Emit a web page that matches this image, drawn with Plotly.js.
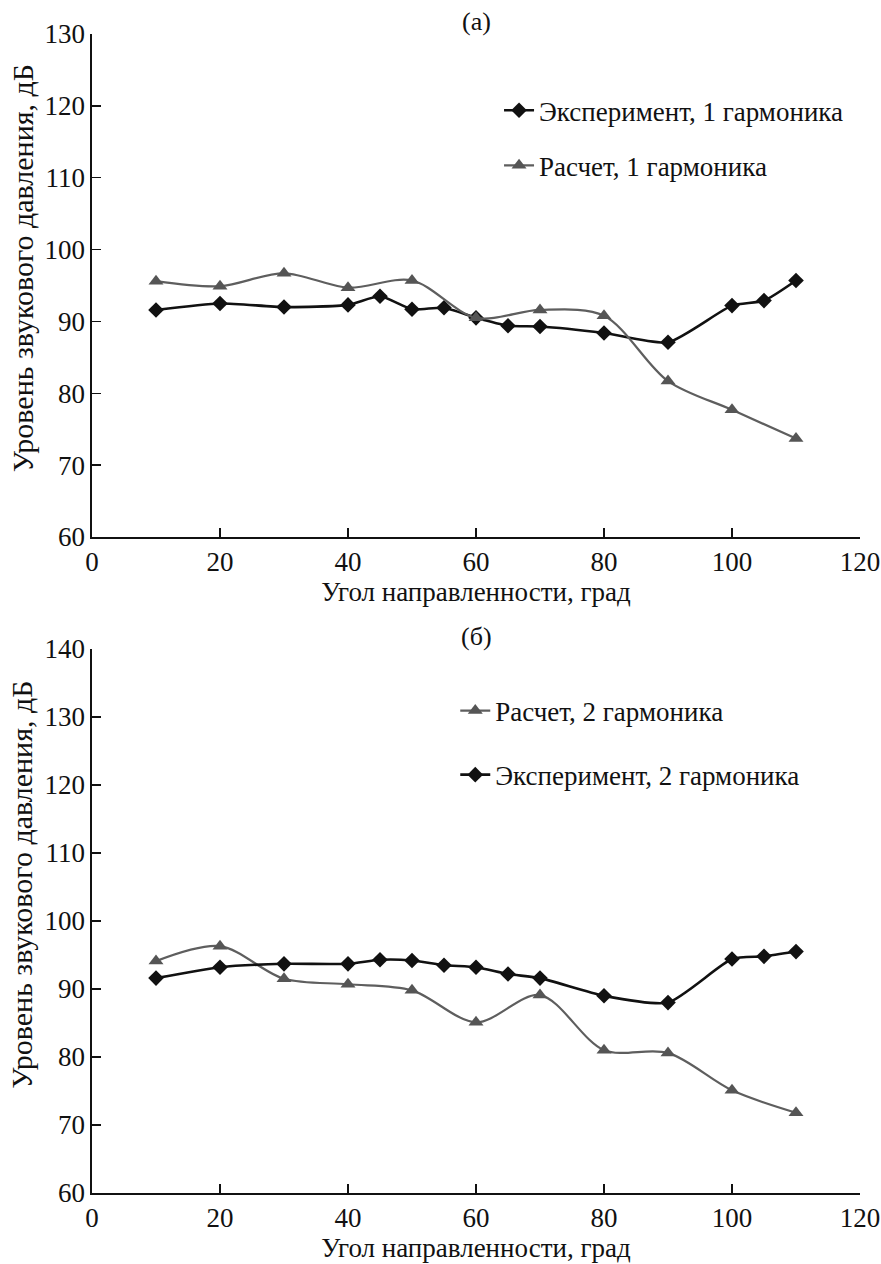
<!DOCTYPE html>
<html>
<head>
<meta charset="utf-8">
<script src="https://cdn.plot.ly/plotly-3.0.1.min.js"></script>
<style>html,body{margin:0;padding:0;background:#fff;}#chart{width:881px;height:1264px;}</style>
</head>
<body>
<div id="chart"></div>
<script>
// (а) 1st harmonic
const expAngles1 = [10, 20, 30, 40, 45, 50, 55, 60, 65, 70, 80, 90, 100, 105, 110];
const expLevels1 = [91.6, 92.5, 92.0, 92.3, 93.5, 91.7, 91.9, 90.5, 89.4, 89.3, 88.4, 87.1, 92.2, 92.9, 95.7];
const calcAngles1 = [10, 20, 30, 40, 50, 60, 70, 80, 90, 100, 110];
const calcLevels1 = [95.6, 94.9, 96.7, 94.7, 95.7, 90.5, 91.6, 90.8, 81.7, 77.7, 73.7];
// (б) 2nd harmonic
const expAngles2 = [10, 20, 30, 40, 45, 50, 55, 60, 65, 70, 80, 90, 100, 105, 110];
const expLevels2 = [91.6, 93.2, 93.7, 93.7, 94.3, 94.2, 93.5, 93.2, 92.2, 91.6, 89.0, 88.0, 94.4, 94.8, 95.5];
const calcAngles2 = [10, 20, 30, 40, 50, 60, 70, 80, 90, 100, 110];
const calcLevels2 = [94.1, 96.3, 91.5, 90.7, 89.8, 85.1, 89.1, 81.0, 80.6, 75.1, 71.8];

const names = {
  exp1: 'Эксперимент, 1 гармоника',
  calc1: 'Расчет, 1 гармоника',
  calc2: 'Расчет, 2 гармоника',
  exp2: 'Эксперимент, 2 гармоника'
};
const xTitle = 'Угол направленности, град';
const yTitle = 'Уровень звукового давления, дБ';
const xTicks = [0, 20, 40, 60, 80, 100, 120];

const FONT = 'Liberation Serif, Times New Roman, serif';
const FS = 27;
const BLACK = '#111111';
const GRAY = '#5e5e5e';

const expStyle = {mode: 'lines+markers', line: {color: BLACK, width: 2.6, shape: 'spline', smoothing: 0.6},
  marker: {symbol: 'diamond', size: 12, color: BLACK}};
const calcStyle = {mode: 'lines+markers', line: {color: GRAY, width: 2.2, shape: 'spline', smoothing: 0.9},
  marker: {symbol: 'triangle-up', size: 13, color: '#555555'}};

const traces = [
  Object.assign({x: expAngles1, y: expLevels1, name: names.exp1, xaxis: 'x', yaxis: 'y', legend: 'legend', legendgroup: 'a1'}, JSON.parse(JSON.stringify(expStyle))),
  Object.assign({x: calcAngles1, y: calcLevels1, name: names.calc1, xaxis: 'x', yaxis: 'y', legend: 'legend', legendgroup: 'a2'}, JSON.parse(JSON.stringify(calcStyle))),
  Object.assign({x: calcAngles2, y: calcLevels2, name: names.calc2, xaxis: 'x2', yaxis: 'y2', legend: 'legend2', legendgroup: 'b1'}, JSON.parse(JSON.stringify(calcStyle))),
  Object.assign({x: expAngles2, y: expLevels2, name: names.exp2, xaxis: 'x2', yaxis: 'y2', legend: 'legend2', legendgroup: 'b2'}, JSON.parse(JSON.stringify(expStyle)))
];

const axisCommon = {
  showline: true, linecolor: BLACK, linewidth: 1.6, showgrid: false, zeroline: false,
  ticks: 'inside', ticklen: 9, tickwidth: 1.4, tickcolor: BLACK,
  tickfont: {family: FONT, size: FS, color: BLACK}
};
const titleFont = {family: FONT, size: FS, color: BLACK};
const yTitleFont = {family: FONT, size: 30, color: BLACK};

const layout = {
  width: 881, height: 1264,
  margin: {l: 92, r: 21, t: 34, b: 71},
  paper_bgcolor: '#ffffff', plot_bgcolor: '#ffffff',
  font: {family: FONT, color: BLACK},
  showlegend: true,
  xaxis: Object.assign({}, axisCommon, {domain: [0, 1], anchor: 'y', range: [0, 120], tickvals: xTicks,
    title: {text: xTitle, font: titleFont, standoff: 6}}),
  yaxis: Object.assign({}, axisCommon, {domain: [0.566, 1], anchor: 'x', range: [60, 130], dtick: 10}),
  xaxis2: Object.assign({}, axisCommon, {domain: [0, 1], anchor: 'y2', range: [0, 120], tickvals: xTicks,
    title: {text: xTitle, font: titleFont, standoff: 4}}),
  yaxis2: Object.assign({}, axisCommon, {domain: [0, 0.4694], anchor: 'x2', range: [60, 140], dtick: 10}),
  legend: {x: 0.53, y: 0.955, xanchor: 'left', yanchor: 'top', bgcolor: 'rgba(0,0,0,0)',
    font: {family: FONT, size: FS, color: BLACK}, itemwidth: 30, tracegroupgap: 17, traceorder: 'grouped'},
  legend2: {x: 0.473, y: 0.437, xanchor: 'left', yanchor: 'top', bgcolor: 'rgba(0,0,0,0)',
    font: {family: FONT, size: FS, color: BLACK}, itemwidth: 30, tracegroupgap: 26, traceorder: 'grouped'},
  annotations: [
    {text: '(а)', xref: 'paper', yref: 'paper', x: 0.5, y: (1193 - 22) / 1159, xanchor: 'center', yanchor: 'middle',
      showarrow: false, font: {family: FONT, size: 26, color: BLACK}},
    {text: '(б)', xref: 'paper', yref: 'paper', x: 0.5, y: (1193 - 637) / 1159, xanchor: 'center', yanchor: 'middle',
      showarrow: false, font: {family: FONT, size: 26, color: BLACK}},
    {text: yTitle, xref: 'paper', yref: 'paper', x: -0.091, y: 0.798, xanchor: 'center', yanchor: 'middle',
      textangle: -90, showarrow: false, font: yTitleFont},
    {text: yTitle, xref: 'paper', yref: 'paper', x: -0.091, y: 0.266, xanchor: 'center', yanchor: 'middle',
      textangle: -90, showarrow: false, font: yTitleFont}
  ]
};

Plotly.newPlot('chart', traces, layout, {displayModeBar: false, staticPlot: true});
</script>
</body>
</html>
